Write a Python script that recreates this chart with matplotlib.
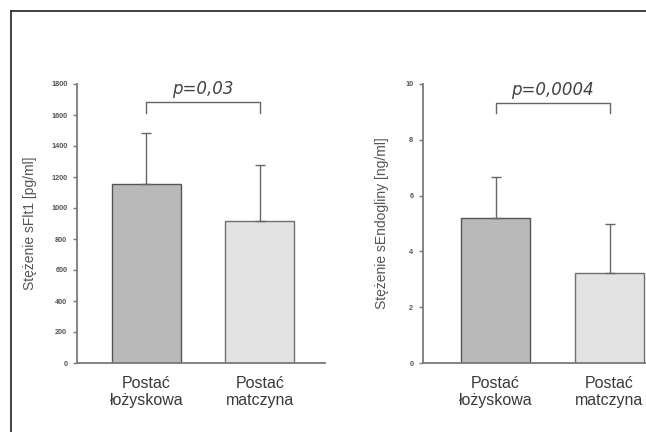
import matplotlib
matplotlib.use("Agg")
import matplotlib.pyplot as plt
from matplotlib.lines import Line2D

categories = ["Postać\nłożyskowa", "Postać\nmatczyna"]
sflt1_mean = [1155, 918]
sflt1_sd = [328, 358]
seng_mean = [5.2, 3.24]
seng_sd = [1.48, 1.75]
sflt1_ticks = [0, 200, 400, 600, 800, 1000, 1200, 1400, 1600, 1800]
seng_ticks = [0, 2, 4, 6, 8, 10]
p_left = "p=0,03"
p_right = "p=0,0004"

bar_colors = ["#b9b9b9", "#e3e3e3"]
edge_colors = ["#555555", "#707070"]
axis_color = "#7a7a7a"
text_color = "#444444"

plt.rcParams['font.family'] = ['Liberation Sans', 'DejaVu Sans']

fig = plt.figure(figsize=(6.46, 4.32), dpi=100)
fig.patch.set_facecolor("white")

# frame lines
fig.add_artist(Line2D([11/646, 11/646], [0, 1 - 11/432], transform=fig.transFigure,
                      color="#333333", lw=1.3))
fig.add_artist(Line2D([11/646, 1], [1 - 11/432, 1 - 11/432], transform=fig.transFigure,
                      color="#333333", lw=1.3))


def draw(ax, means, sds, ticks, ylabel, ptext, xlim, width, br_y, br_drop, p_y, lab_x):
    x = list(range(len(means)))
    for i in x:
        ax.bar(i, means[i], width=width, color=bar_colors[i], edgecolor=edge_colors[i],
               linewidth=1.0, zorder=2)
        ax.errorbar(i, means[i], yerr=[[0], [sds[i]]], fmt="none", ecolor="#666666",
                    elinewidth=1.0, capsize=3.5, capthick=1.0, zorder=3)
    ax.set_xlim(*xlim)
    ax.set_ylim(ticks[0], ticks[-1])
    ax.set_yticks(ticks)
    ax.set_yticklabels([str(t) for t in ticks], fontsize=5.2, color="#555555",
                       fontweight="bold")
    ax.set_xticks(x)
    ax.set_xticklabels(categories, fontsize=11.5, color="#3a3a3a", linespacing=1.2)
    ax.tick_params(axis="x", length=0, pad=9)
    ax.tick_params(axis="y", length=3.0, width=1.0, color=axis_color, pad=4)
    for s in ["top", "right"]:
        ax.spines[s].set_visible(False)
    for s in ["left", "bottom"]:
        ax.spines[s].set_color(axis_color)
        ax.spines[s].set_linewidth(1.3)
    ax.set_ylabel(ylabel, fontsize=10, color="#555555")
    ax.yaxis.set_label_coords(lab_x, 0.5)
    ax.plot([0, 0, 1, 1], [br_y - br_drop, br_y, br_y, br_y - br_drop],
            color="#666666", lw=1.0, clip_on=False)
    ax.text(0.5, p_y, ptext, ha="center", va="center", fontsize=12,
            style="italic", color=text_color, family=["DejaVu Sans"])
    ax.patch.set_alpha(0)


ax1 = fig.add_axes([77/646, 69/432, 248/646, 279/432])
draw(ax1, sflt1_mean, sflt1_sd, sflt1_ticks, "Stężenie sFlt1 [pg/ml]", p_left,
     (-0.612, 1.573), 0.608, 1684, 70, 1765, -0.16)

ax2 = fig.add_axes([423/646, 69/432, 223/646, 279/432])
draw(ax2, seng_mean, seng_sd, seng_ticks, "Stężenie sEndogliny [ng/ml]", p_right,
     (-0.636, 1.32), 0.605, 9.32, 0.36, 9.8, -0.153)

fig.savefig("out.png", dpi=100, facecolor="white")
